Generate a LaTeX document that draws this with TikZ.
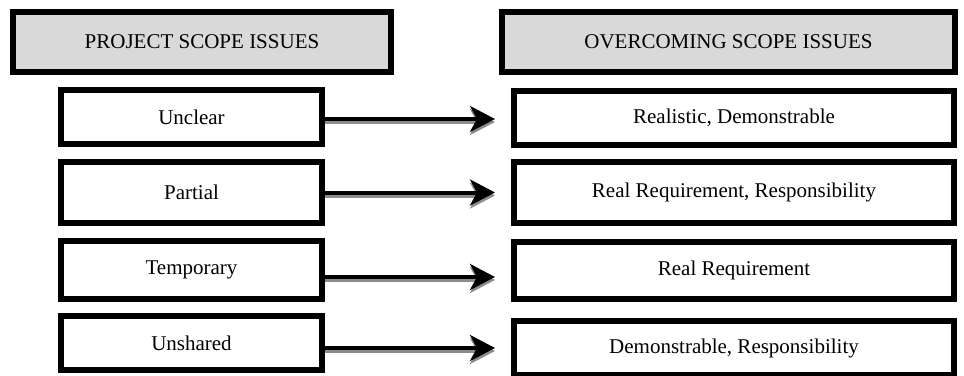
\documentclass[tikz,border=0pt]{standalone}
\usepackage{fontspec}
\setmainfont{Liberation Serif}
\usepackage{tikz}
\usetikzlibrary{arrows.meta, positioning}

\begin{document}
\begin{tikzpicture}[
    x=1pt, y=-1pt,
    every node/.style={rectangle, draw, line width=6pt, inner sep=0pt,
        font=\fontsize{21}{25}\selectfont},
    head/.style={fill=black!15, minimum height=60pt},
    issue/.style={minimum width=261pt},
    remedy/.style={minimum width=440pt},
    link/.style={line width=4pt, -{Stealth[length=25pt, width=26pt, inset=7pt]},
        shorten >=16pt,
        preaction={draw=black!45, line width=4pt, transform canvas={yshift=-3pt}}}
]
\useasboundingbox (0,0) rectangle (964,375);
\node[head, minimum width=378pt] (1) at (202, 42) {PROJECT SCOPE ISSUES};
\node[head, minimum width=453pt] (2) at (728.5, 42) {OVERCOMING SCOPE ISSUES};
\node[issue, minimum height=54pt] (3) at (191.5, 117) {Unclear};
\node[issue, minimum height=61pt] (4) at (191.5, 192.5) {Partial};
\node[issue, minimum height=58pt] (5) at (191.5, 270) {Temporary};
\node[issue, minimum height=54pt] (6) at (191.5, 343) {Unshared};
\node[remedy, minimum height=54pt] (7) at (734, 118) {Realistic, Demonstrable};
\node[remedy, minimum height=61pt] (8) at (734, 192.5) {Real Requirement, Responsibility};
\node[remedy, minimum height=57pt] (9) at (734, 270.5) {Real Requirement};
\node[remedy, minimum height=54pt] (10) at (734, 348) {Demonstrable, Responsibility};
\draw[link] ([yshift=-2pt]3.east) -- ([yshift=-2pt]3.east -| 7.west);
\draw[link] (4.east) -- (4.east -| 8.west);
\draw[link] ([yshift=-7pt]5.east) -- ([yshift=-7pt]5.east -| 9.west);
\draw[link] ([yshift=-5pt]6.east) -- ([yshift=-5pt]6.east -| 10.west);
\end{tikzpicture}
\end{document}
